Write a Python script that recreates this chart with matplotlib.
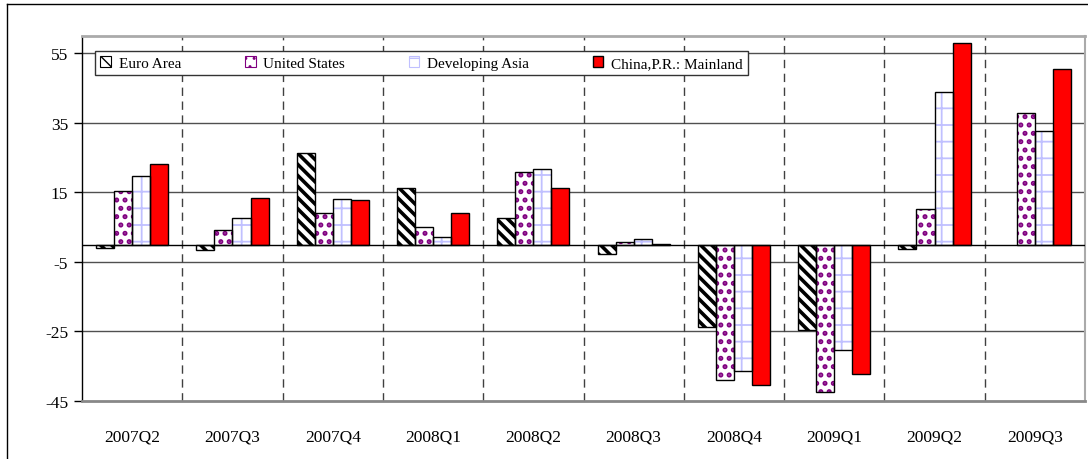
import numpy as np
import matplotlib
matplotlib.use('Agg')
import matplotlib.pyplot as plt
from matplotlib.patches import Patch
from matplotlib.lines import Line2D

plt.rcParams['font.family'] = ['Liberation Serif', 'DejaVu Serif']
plt.rcParams['font.size'] = 12.5
plt.rcParams['axes.unicode_minus'] = False

quarters = ['2007Q2', '2007Q3', '2007Q4', '2008Q1', '2008Q2',
            '2008Q3', '2008Q4', '2009Q1', '2009Q2', '2009Q3']
euro_area = [-1.0, -1.5, 26.2, 16.3, 7.7, -2.6, -23.7, -24.7, -1.2, np.nan]
united_states = [15.3, 4.1, 9.2, 5.1, 21.0, 0.7, -39.0, -42.4, 10.3, 37.9]
developing_asia = [19.6, 7.6, 13.2, 2.3, 21.6, 1.7, -36.4, -30.2, 44.0, 32.8]
china = [23.3, 13.5, 12.8, 9.2, 16.2, 0.3, -40.3, -37.3, 58.0, 50.4]
labels = ['Euro Area', 'United States', 'Developing Asia', 'China,P.R.: Mainland']

fig = plt.figure(figsize=(10.88, 4.6), dpi=100)
ax = fig.add_axes([82/1088, 58/460, 1003/1088, 365/460])

x = np.arange(len(quarters))
w = 0.18

# series styles: (face, hatch, hatch colour, hatch linewidth)
styles = [
    ('white', '\\\\\\', 'black', 2.6),
    ('white', '..', '#800080', 2.4),
    ('white', '+', '#c0c0ff', 1.3),
    ('#ff0000', None, None, 1.0),
]
series = [euro_area, united_states, developing_asia, china]

for i, (vals, st) in enumerate(zip(series, styles)):
    face, hatch, hcol, hlw = st
    pos = x + (i - 1.5) * w
    if hatch:
        with plt.rc_context({'hatch.linewidth': hlw}):
            ax.bar(pos, vals, width=w, color=face, edgecolor=hcol,
                   hatch=hatch, linewidth=0, zorder=3)
        ax.bar(pos, vals, width=w, color='none', edgecolor='black',
               linewidth=1.0, zorder=4)
    else:
        ax.bar(pos, vals, width=w, color=face, edgecolor='black',
               linewidth=1.0, zorder=3)

ax.set_xlim(-0.5, len(quarters) - 0.5)
ax.set_ylim(-45, 60)
ax.set_yticks(np.arange(-45, 56, 20))
ax.set_xticks(x)
ax.set_xticklabels(quarters)
ax.tick_params(axis='x', length=0, pad=20)
ax.tick_params(axis='y', length=6, direction='out', width=1, pad=4)

for yv in [55, 35, 15, -5, -25]:
    ax.axhline(yv, color='#505050', linewidth=1.0, zorder=1)
ax.axhline(0, color='black', linewidth=1.0, zorder=5)
for xv in np.arange(0.5, len(quarters) - 0.5, 1):
    ax.axvline(xv, color='#404040', linewidth=1.0, linestyle=(0, (6, 4)), zorder=2)

ax.spines['left'].set_color('black')
ax.spines['left'].set_linewidth(1.0)
ax.spines['bottom'].set_color('#888888')
ax.spines['bottom'].set_linewidth(2.0)
ax.spines['top'].set_color('#aaaaaa')
ax.spines['top'].set_linewidth(2.0)
ax.spines['right'].set_color('#aaaaaa')
ax.spines['right'].set_linewidth(1.5)

handles = []
for st, lab in zip(styles, labels):
    face, hatch, hcol, hlw = st
    handles.append(Patch(facecolor=face, edgecolor=hcol if hatch else 'black',
                         hatch=hatch, linewidth=1.0 if not hatch else 0.8, label=lab))
leg = ax.legend(handles=handles, ncol=4, mode='expand',
                bbox_to_anchor=(0.013, 0.893, 0.651, 0.08), loc='lower left',
                fancybox=False, edgecolor='#333333', framealpha=1,
                handlelength=0.7, handleheight=0.7, handletextpad=0.5,
                borderaxespad=0, borderpad=0.35, fontsize=11)
leg.get_frame().set_linewidth(1.0)
leg.set_zorder(10)

# outer chart frame (left and top edges visible)
fig.add_artist(Line2D([7/1088, 7/1088], [0, 455/460], color='black', linewidth=1.0))
fig.add_artist(Line2D([7/1088, 1], [455/460, 455/460], color='black', linewidth=1.0))

fig.savefig('out.png', dpi=100)
